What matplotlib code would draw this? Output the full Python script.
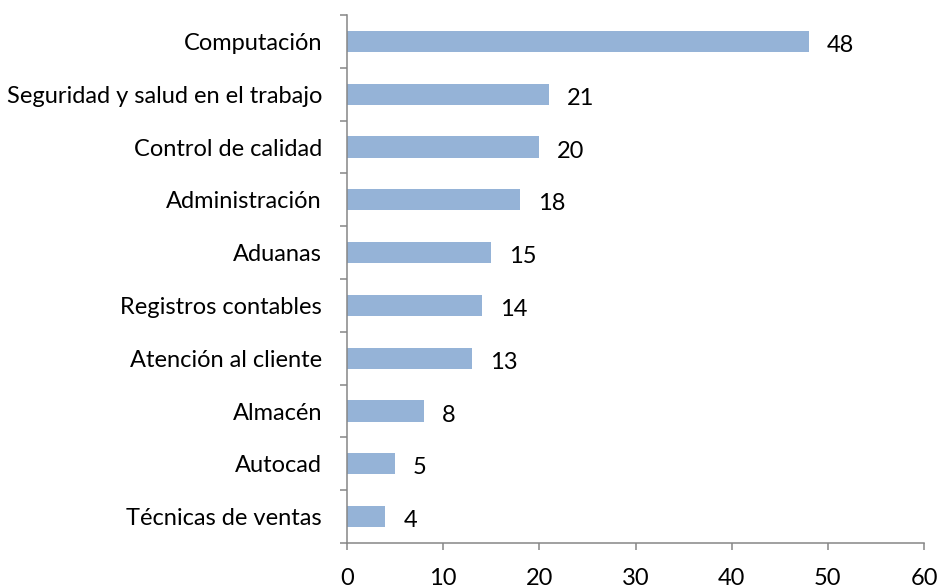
import matplotlib.pyplot as plt
import numpy as np

categorias = ["Computación", "Seguridad y salud en el trabajo", "Control de calidad",
              "Administración", "Aduanas", "Registros contables", "Atención al cliente",
              "Almacén", "Autocad", "Técnicas de ventas"]
valores = [48, 21, 20, 18, 15, 14, 13, 8, 5, 4]
xticks = [0, 10, 20, 30, 40, 50, 60]

plt.rcParams['font.family'] = ['Lato', 'DejaVu Sans']
gris = "#868686"
fs = 17

fig = plt.figure(figsize=(9.41, 5.88), dpi=100)
ax = fig.add_axes([0.3687, 0.0765, 0.982 - 0.3687, 0.9745 - 0.0765])

y = np.arange(len(categorias))[::-1]
ax.barh(y, valores, height=0.4, color="#95B3D7")
for yi, v in zip(y, valores):
    ax.annotate(str(v), (v, yi), xytext=(13, -3), textcoords="offset points",
                va="center", ha="left", fontsize=fs)

ax.set_xlim(0, 60)
ax.set_ylim(-0.5, len(categorias) - 0.5)
ax.set_xticks(xticks)
ax.set_yticks(y)
ax.set_yticklabels(categorias, fontsize=fs)
ax.set_yticks(np.arange(len(categorias) + 1) - 0.5, minor=True)
ax.tick_params(axis="y", which="major", length=0, pad=18)
ax.tick_params(axis="y", which="minor", length=5, color=gris, width=1.1, direction="out")
ax.tick_params(axis="x", length=5, color=gris, width=1.1, pad=13, labelsize=fs)

for s in ["top", "right"]:
    ax.spines[s].set_visible(False)
for s in ["left", "bottom"]:
    ax.spines[s].set_color(gris)
    ax.spines[s].set_linewidth(1.1)

fig.savefig("out.png", dpi=100)
